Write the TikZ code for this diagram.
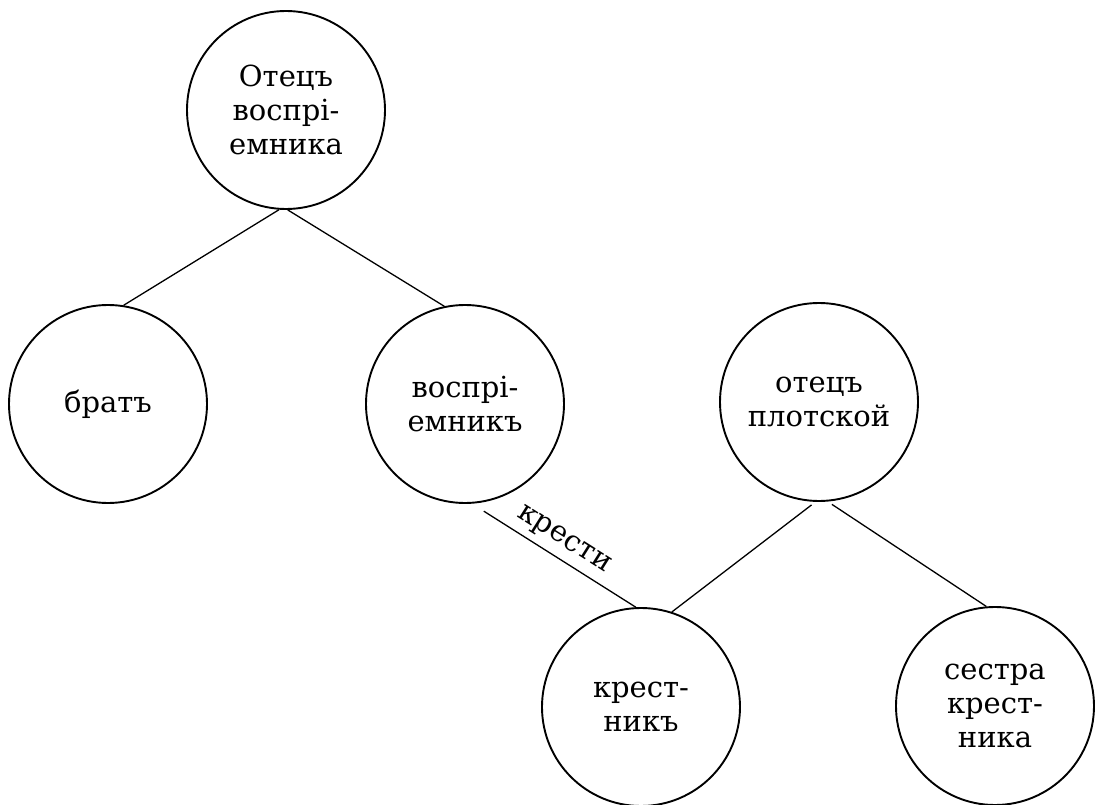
\documentclass[tikz,border=0pt]{standalone}
\usepackage{fontspec}
\setmainfont{DejaVu Serif}
\usepackage{tikz}
\usetikzlibrary{positioning}

\begin{document}
\begin{tikzpicture}[x=1pt,y=-1pt,
  person/.style={draw,circle,line width=1.9pt,minimum size=198pt,inner sep=0pt,
    align=center,font=\fontsize{29}{34}\selectfont},
  link/.style={line width=1.3pt}]
  \useasboundingbox (0,0) rectangle (1096,805);
  % persons
  \node[person] (otecVospr) at (286,110) {Отецъ\\воспрі-\\емника};
  \node[person] (brat) at (108,404) {братъ};
  \node[person] (vospr) at (465,404) {воспрі-\\емникъ};
  \node[person] (otecPlot) at (819,402) {отецъ\\плотской};
  \node[person] (krestnik) at (641,707) {крест-\\никъ};
  \node[person] (sestra) at (995,706) {сестра\\крест-\\ника};
  % links
  \draw[link] (otecVospr.266) -- (brat.81);
  \draw[link] (otecVospr.271) -- (vospr.102);
  \draw[link,shorten <=14pt] (vospr.274) -- (krestnik.93)
    node[midway,sloped,above=3pt,font=\fontsize{29}{34}\selectfont]{крести};
  \draw[link,shorten <=5pt] (otecPlot.268) -- (krestnik.72);
  \draw[link,shorten <=5pt] (otecPlot.275) -- (sestra.95);
\end{tikzpicture}
\end{document}
